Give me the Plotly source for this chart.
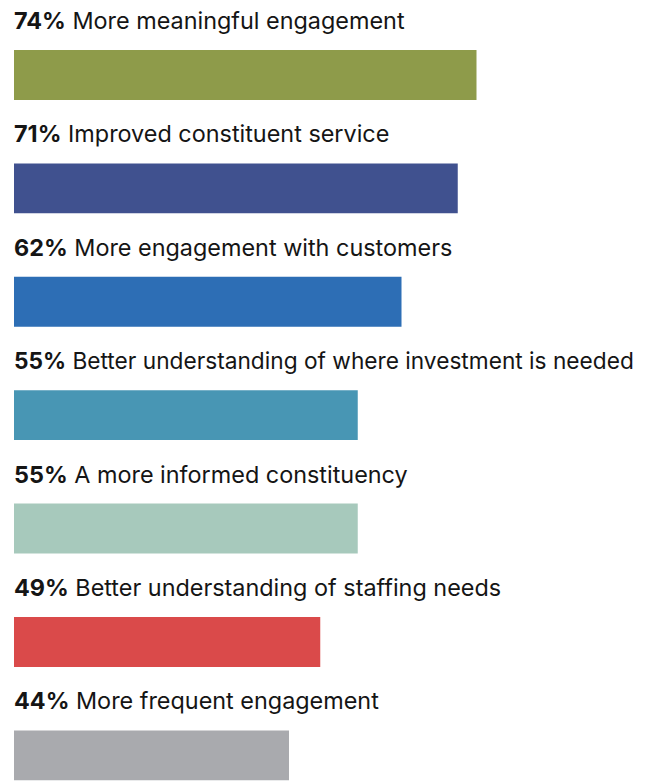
import plotly.graph_objects as go

# Survey results: share of respondents reporting each benefit
labels = [
    "More meaningful engagement",
    "Improved constituent service",
    "More engagement with customers",
    "Better understanding of where investment is needed",
    "A more informed constituency",
    "Better understanding of staffing needs",
    "More frequent engagement",
]
values = [74, 71, 62, 55, 55, 49, 44]
colors = ["#8E9B4A", "#40518F", "#2D6EB5", "#4896B4", "#A7C9BC", "#DA4A4A", "#A9AAAE"]
label_sizes = [23.4, 23.4, 23.4, 22.7, 23.4, 23.4, 23.4]

positions = list(range(len(values)))

fig = go.Figure(
    go.Bar(
        x=values,
        y=positions,
        orientation="h",
        marker=dict(color=colors, line=dict(width=0)),
        width=0.44,
        hoverinfo="skip",
    )
)

# Label above each bar: bold percentage followed by the description
for pos, val, lab, size in zip(positions, values, labels, label_sizes):
    fig.add_annotation(
        x=0, y=pos - 0.48,
        xref="x", yref="y",
        text=f"<b>{val}%</b> {lab}",
        showarrow=False,
        xanchor="left", yanchor="middle",
        xshift=-2,
        font=dict(family="Inter", size=size, color="#151515"),
    )

fig.update_layout(
    width=650, height=781,
    margin=dict(l=14, r=11, t=0, b=0),
    paper_bgcolor="white",
    plot_bgcolor="white",
    showlegend=False,
    xaxis=dict(range=[0, 100], visible=False, fixedrange=True),
    yaxis=dict(range=[6.226, -0.661], visible=False, fixedrange=True),
)

fig.write_html("out.html")
